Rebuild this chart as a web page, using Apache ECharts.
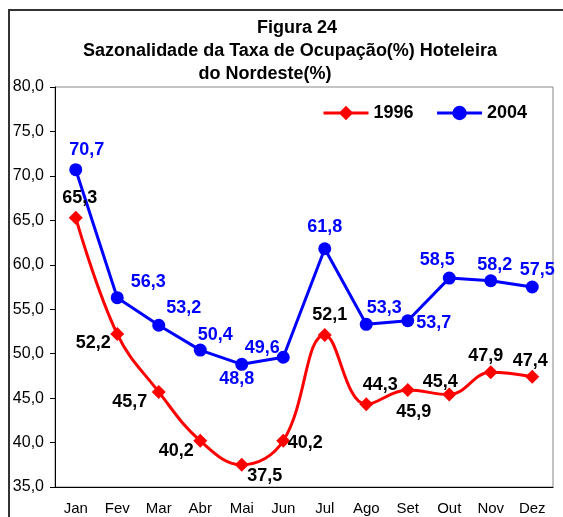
<!DOCTYPE html>
<html>
<head>
    <meta charset="utf-8">
    <title>Figura 24</title>
    <script src="https://cdn.jsdelivr.net/npm/echarts@6/dist/echarts.min.js"></script>
    <style>
        html, body { margin: 0; padding: 0; background: #fff; }
        #chart1 { width: 563px; height: 517px; }
    </style>
</head>
<body>
<div id="chart1"></div>
<script>
    // dados
    var meses = ['Jan', 'Fev', 'Mar', 'Abr', 'Mai', 'Jun', 'Jul', 'Ago', 'Set', 'Out', 'Nov', 'Dez'];
    var taxa1996 = [65.3, 52.2, 45.7, 40.2, 37.5, 40.2, 52.1, 44.3, 45.9, 45.4, 47.9, 47.4];
    var taxa2004 = [70.7, 56.3, 53.2, 50.4, 48.8, 49.6, 61.8, 53.3, 53.7, 58.5, 58.2, 57.5];
    var yTicks = [35, 40, 45, 50, 55, 60, 65, 70, 75, 80];

    // deslocamento dos rótulos em relação ao ponto
    var desloc1996 = [[4, -20], [-24, 9], [-29, 10], [-24, 10], [23, 11], [22, 2],
                      [5, -20], [14, -19], [6, 22], [-9, -13], [-5, -16], [-2, -16]];
    var desloc2004 = [[11, -20], [31, -16], [25, -17], [15, -15], [-5, 15], [-21, -9],
                      [0, -22], [18, -16], [26, 2], [-12, -18], [4, -16], [5, -17]];

    function virgula(v) {
        return v.toFixed(1).replace('.', ',');
    }

    function montaDados(valores, desloc) {
        return valores.map(function (v, i) {
            return { value: v, label: { offset: desloc[i] } };
        });
    }

    var myChart1 = echarts.init(document.getElementById('chart1'));

    var titulo = { fontFamily: 'Liberation Sans, Arial, sans-serif', fontSize: 18, fontWeight: 'bold', fill: '#000', textAlign: 'center', textVerticalAlign: 'middle' };

    myChart1.setOption({
        animation: false,
        textStyle: { fontFamily: 'Liberation Sans, Arial, sans-serif' },
        graphic: [
            { type: 'rect', shape: { x: 9, y: 10, width: 700, height: 700 }, style: { fill: 'none', stroke: '#333', lineWidth: 2 }, silent: true },
            { type: 'text', x: 297, y: 28, style: Object.assign({ text: 'Figura 24' }, titulo) },
            { type: 'text', x: 290, y: 51, style: Object.assign({ text: 'Sazonalidade da Taxa de Ocupação(%) Hoteleira' }, titulo) },
            { type: 'text', x: 265, y: 74, style: Object.assign({ text: 'do Nordeste(%)' }, titulo) }
        ],
        legend: {
            left: 317,
            top: 99,
            itemWidth: 45,
            itemHeight: 18,
            itemGap: 22,
            data: ['1996', '2004'],
            lineStyle: { width: 3 },
            textStyle: { fontSize: 18, fontWeight: 'bold', color: '#000' }
        },
        grid: {
            left: 55, right: 10, top: 87, bottom: 30,
            show: true, borderColor: '#888', borderWidth: 1
        },
        xAxis: {
            type: 'category',
            data: meses,
            boundaryGap: true,
            axisLine: { lineStyle: { color: '#000', width: 1 } },
            axisTick: { length: 5, lineStyle: { color: '#000' } },
            axisLabel: { fontSize: 15, color: '#000', margin: 14 }
        },
        yAxis: {
            type: 'value',
            min: yTicks[0],
            max: yTicks[yTicks.length - 1],
            interval: 5,
            splitLine: { show: false },
            axisLine: { show: true, lineStyle: { color: '#000', width: 1 } },
            axisTick: { show: true, length: 5, lineStyle: { color: '#000' } },
            axisLabel: { fontSize: 16, color: '#000', margin: 11, formatter: virgula }
        },
        series: [
            {
                name: '1996',
                type: 'line',
                smooth: 0.4,
                data: montaDados(taxa1996, desloc1996),
                symbol: 'diamond',
                symbolSize: 14,
                itemStyle: { color: '#ff0000' },
                lineStyle: { color: '#ff0000', width: 3 },
                label: {
                    show: true, position: 'inside', color: '#000',
                    fontSize: 18, fontWeight: 'bold',
                    formatter: function (p) { return virgula(p.value); }
                }
            },
            {
                name: '2004',
                type: 'line',
                data: montaDados(taxa2004, desloc2004),
                symbol: 'circle',
                symbolSize: 13,
                itemStyle: { color: '#0000ff' },
                lineStyle: { color: '#0000ff', width: 3 },
                label: {
                    show: true, position: 'inside', color: '#0000ff',
                    fontSize: 18, fontWeight: 'bold',
                    formatter: function (p) { return virgula(p.value); }
                }
            }
        ]
    });
</script>
</body>
</html>
